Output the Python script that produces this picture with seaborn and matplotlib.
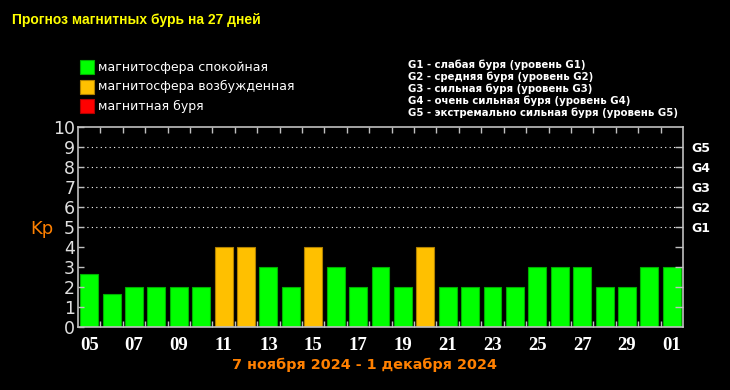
#!/usr/bin/env python3
"""
27-day magnetic storm forecast (Kp index) chart.
"""

import matplotlib
matplotlib.use('Agg')
import matplotlib.pyplot as plt
from matplotlib.patches import Rectangle
import seaborn as sns
import pandas as pd

# Forecast data
days = ['05', '06', '07', '08', '09', '10', '11', '12', '13', '14', '15', '16', '17', '18',
        '19', '20', '21', '22', '23', '24', '25', '26', '27', '28', '29', '30', '01']
kp_values = [2.67, 1.67, 2, 2, 2, 2, 4, 4, 3, 2, 4, 3, 2, 3,
             2, 4, 2, 2, 2, 2, 3, 3, 3, 2, 2, 3, 3]
g_levels = [5, 6, 7, 8, 9]
g_labels = ['G1', 'G2', 'G3', 'G4', 'G5']
state_labels = ['магнитосфера спокойная', 'магнитосфера возбужденная', 'магнитная буря']
state_colors = ['#00ff00', '#ffc000', '#ff0000']
state_edges = ['#00b000', '#b08000', '#b00000']
g_descriptions = [
    'G1 - слабая буря (уровень G1)',
    'G2 - средняя буря (уровень G2)',
    'G3 - сильная буря (уровень G3)',
    'G4 - очень сильная буря (уровень G4)',
    'G5 - экстремально сильная буря (уровень G5)',
]
title = 'Прогноз магнитных бурь на 27 дней'
period = '7 ноября 2024 - 1 декабря 2024'


def kp_state(kp):
    if kp < 4:
        return state_labels[0]
    if kp < 5:
        return state_labels[1]
    return state_labels[2]


def create_chart():
    df = pd.DataFrame({'day': days, 'kp': kp_values})
    df['state'] = df['kp'].apply(kp_state)

    fig = plt.figure(figsize=(7.3, 3.9), dpi=100)
    fig.patch.set_facecolor('black')
    ax = fig.add_axes([0.1068, 0.1615, 0.8288, 0.5128])
    ax.set_facecolor('black')

    palette = dict(zip(state_labels, state_colors))
    sns.barplot(data=df, x='day', y='kp', hue='state', order=days,
                hue_order=state_labels, palette=palette, dodge=False,
                width=0.8, saturation=1, legend=False, ax=ax)

    edge_map = dict(zip(state_colors, state_edges))
    for patch in ax.patches:
        fc = matplotlib.colors.to_hex(patch.get_facecolor())
        patch.set_edgecolor(edge_map.get(fc, '#808080'))
        patch.set_linewidth(0.8)

    # dotted storm level lines
    for lvl in g_levels:
        ax.axhline(lvl, color='white', linestyle=(0, (1, 3)), linewidth=0.8, zorder=0)

    ax.set_xlim(-0.5, len(days) - 0.5)
    ax.set_ylim(0, 10)
    ax.set_xlabel('')
    ax.set_ylabel('')

    # x ticks: labels every other day, small marks between bars
    ax.set_xticks(range(0, len(days), 2))
    ax.set_xticklabels(days[::2], color='white', fontsize=13.5, fontweight='bold',
                       family='Liberation Serif')
    ax.set_xticks([i + 0.5 for i in range(len(days) - 1)], minor=True)
    ax.tick_params(axis='x', which='major', length=0, pad=7)
    ax.tick_params(axis='x', which='minor', direction='in', length=4, width=1,
                   color='#c0c0c0', top=True, bottom=True)

    ax.set_yticks(range(0, 11))
    ax.set_yticklabels([str(i) for i in range(0, 11)], color='#e0e0e0', fontsize=12.5)
    ax.tick_params(axis='y', direction='in', length=4, width=1, color='#c0c0c0', pad=2)

    for spine in ax.spines.values():
        spine.set_color('#c0c0c0')
        spine.set_linewidth(1.2)

    # right axis with G levels
    ax2 = ax.twinx()
    ax2.set_ylim(0, 10)
    ax2.set_yticks(range(1, 10))
    ax2.set_yticklabels(['', '', '', ''] + g_labels, color='white', fontsize=9,
                        fontweight='bold')
    ax2.tick_params(axis='y', direction='in', length=6, width=1, color='#c0c0c0', pad=6)
    for spine in ax2.spines.values():
        spine.set_visible(False)

    fig.text(42 / 730, 1 - 229 / 390, 'Kp', color='#ff8000', fontsize=13,
             ha='center', va='center')

    fig.text(12 / 730, 1 - 20 / 390, title, color='#ffff00', fontsize=10,
             fontweight='bold', family='Liberation Sans', ha='left', va='center')

    # state legend
    for i, (label, color, edge) in enumerate(zip(state_labels, state_colors, state_edges)):
        yc = 67 + i * 19.5
        fig.patches.append(Rectangle((80 / 730, 1 - (yc + 7) / 390), 14 / 730, 14 / 390,
                                     transform=fig.transFigure, facecolor=color,
                                     edgecolor=edge, linewidth=0.8))
        fig.text(98 / 730, 1 - yc / 390, label, color='white', fontsize=9,
                 ha='left', va='center')

    # storm level descriptions
    for i, text in enumerate(g_descriptions):
        fig.text(408 / 730, 1 - (65 + i * 12) / 390, text, color='white', fontsize=7.3,
                 fontweight='bold', ha='left', va='center')

    fig.text(365 / 730, 1 - 365 / 390, period, color='#ff8000', fontsize=10.4,
             fontweight='bold', ha='center', va='center')

    plt.savefig('out.png', dpi=100, facecolor='black')


if __name__ == "__main__":
    create_chart()
